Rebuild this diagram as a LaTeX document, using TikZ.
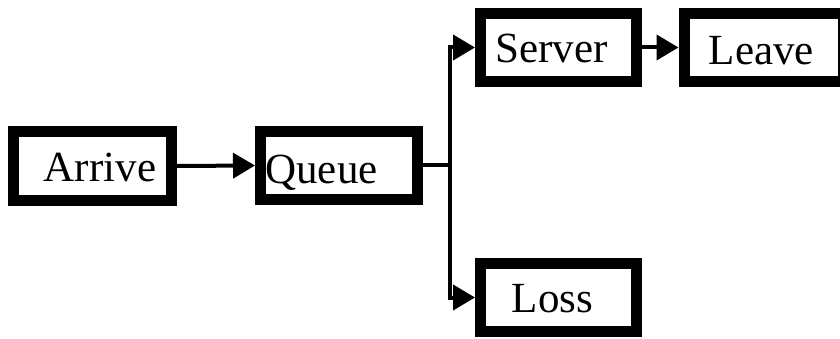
\documentclass[tikz,border=0pt]{standalone}
\usepackage{fontspec}
\setmainfont{Liberation Serif}
\usetikzlibrary{arrows.meta}
\begin{document}
\begin{tikzpicture}[x=1pt,y=-1pt,
  box/.style={draw=black,line width=11pt,fill=white,inner sep=0pt,line join=miter},
  lbl/.style={inner sep=0pt,anchor=base,font=\fontsize{43}{50}\selectfont},
  conn/.style={draw=black,line width=4pt},
  arr/.style={conn,-{Triangle[length=22pt,width=25pt]}}]
\useasboundingbox (0,0) rectangle (840,339);
\clip (0,0) rectangle (840,339);
% boxes (outer size = minimum size + line width)
\node[box,minimum width=158pt,minimum height=69pt] (arrive) at (92.5,166) {};
\node[box,minimum width=157pt,minimum height=68pt] (queue) at (339,165.5) {};
\node[box,minimum width=156pt,minimum height=68pt] (server) at (558.5,47.5) {};
\node[box,minimum width=159pt,minimum height=68pt] (leave) at (763.5,47.5) {};
\node[box,minimum width=156pt,minimum height=68pt] (loss) at (558.5,297.5) {};
% labels
\node[lbl] (arrivet) at (100,182) {Arrive};
\node[lbl] (queuet) at (321.5,183) {Queue};
\node[lbl] (servert) at (551.5,63) {Server};
\node[lbl] (leavet) at (761.5,65) {Leave};
\node[lbl] (losst) at (552.5,312) {Loss};
% connectors
\coordinate (jn) at (450,165.5);
\draw[arr] (arrive.east) -- (queue.west);
\draw[conn] (queue.east) -- (jn);
\draw[arr] (jn) |- (server.west);
\draw[arr] (jn) |- (loss.west);
\draw[arr] (server.east) -- (leave.west);
\end{tikzpicture}
\end{document}
